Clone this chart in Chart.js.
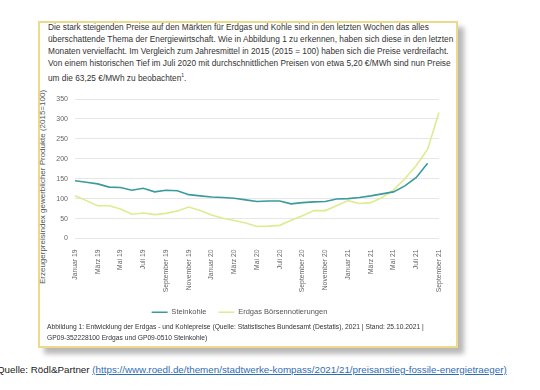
<!DOCTYPE html>
<html lang="de">
<head>
<meta charset="utf-8">
<script src="https://cdn.jsdelivr.net/npm/chart.js@4.4.0/dist/chart.umd.min.js"></script>
<style>
  html, body { margin: 0; padding: 0; background: #fff; }
  body { width: 540px; height: 390px; position: relative; overflow: hidden; font-family: "Liberation Sans", Arial, sans-serif; }
  #box {
    position: absolute; left: 38px; top: 21px; width: 416px; height: 323px;
    border: 2px solid #ecd98c; background: #fff;
    box-shadow: 6px 6px 5px rgba(0,0,0,0.28);
  }
  #intro {
    position: absolute; left: 48px; top: 21px; width: 410px;
    font-size: 8.3px; line-height: 12px; color: #333; white-space: nowrap;
  }
  #intro sup { font-size: 5px; }
  #ytitle {
    position: absolute; left: 42px; top: 187px; width: 0; height: 0;
  }
  #ytitle span {
    position: absolute; left: 0; top: 0; transform: translate(-50%, -50%) rotate(-90deg);
    white-space: nowrap; font-size: 8px; color: #555;
  }
  #chartWrap { position: absolute; left: 40px; top: 86px; width: 414px; height: 240px; }
  #caption {
    position: absolute; left: 47px; top: 321px; font-size: 6.7px; line-height: 11px;
    color: #333; white-space: nowrap;
  }
  #source {
    position: absolute; left: -3px; top: 364px; font-size: 9.8px; color: #222; white-space: nowrap;
  }
  #source a { color: #2f6db5; text-decoration: underline; }
</style>
</head>
<body>
<div id="box"></div>
<div id="intro">
  Die stark steigenden Preise auf den Märkten für Erdgas und Kohle sind in den letzten Wochen das alles<br>
  überschattende Thema der Energiewirtschaft. Wie in Abbildung 1 zu erkennen, haben sich diese in den letzten<br>
  Monaten vervielfacht. Im Vergleich zum Jahresmittel in 2015 (2015 = 100) haben sich die Preise verdreifacht.<br>
  Von einem historischen Tief im Juli 2020 mit durchschnittlichen Preisen von etwa 5,20 €/MWh sind nun Preise<br>
  um die 63,25 €/MWh zu beobachten<sup>1</sup>.
</div>
<div id="ytitle"><span>Erzeugerpreisindex gewerblicher Produkte (2015=100)</span></div>
<div id="chartWrap"><canvas id="chart"></canvas></div>
<div id="caption">
  Abbildung 1: Entwicklung der Erdgas - und Kohlepreise (Quelle: Statistisches Bundesamt (Destatis), 2021 | Stand: 25.10.2021 |<br>
  GP09-352228100 Erdgas und GP09-0510 Steinkohle)
</div>
<div id="source">Quelle: Rödl&amp;Partner <a href="#">(https://www.roedl.de/themen/stadtwerke-kompass/2021/21/preisanstieg-fossile-energietraeger)</a></div>

<script>
// Monate Januar 2019 bis September 2021
const months = [
    'Januar 19', 'Februar 19', 'März 19', 'April 19', 'Mai 19', 'Juni 19',
    'Juli 19', 'August 19', 'September 19', 'Oktober 19', 'November 19', 'Dezember 19',
    'Januar 20', 'Februar 20', 'März 20', 'April 20', 'Mai 20', 'Juni 20',
    'Juli 20', 'August 20', 'September 20', 'Oktober 20', 'November 20', 'Dezember 20',
    'Januar 21', 'Februar 21', 'März 21', 'April 21', 'Mai 21', 'Juni 21',
    'Juli 21', 'August 21', 'September 21'
];

// Index 2015 = 100
const steinkohle = [
    145, 141, 137, 129, 128, 121, 126, 117, 121, 120, 110, 107,
    104, 103, 101, 97, 93, 94, 94, 87, 90, 92, 93, 99,
    100, 103, 107, 112, 117, 132, 153, 189, null
];

const erdgas = [
    107, 95, 82, 82, 74, 61, 64, 60, 63, 69, 79, 70,
    59, 51, 45, 39, 30, 31, 33, 46, 57, 70, 70, 82,
    95, 88, 90, 103, 122, 150, 183, 224, 316
];

const yTicks = [0, 50, 100, 150, 200, 250, 300, 350];

const ctx = document.getElementById('chart');

new Chart(ctx, {
    type: 'line',
    data: {
        labels: months,
        datasets: [{
            label: 'Steinkohle',
            data: steinkohle,
            borderColor: '#3a9a9c',
            backgroundColor: '#3a9a9c',
            borderWidth: 1.6,
            pointRadius: 0,
            tension: 0
        }, {
            label: 'Erdgas Börsennotierungen',
            data: erdgas,
            borderColor: '#e0ea8f',
            backgroundColor: '#e0ea8f',
            borderWidth: 1.6,
            pointRadius: 0,
            tension: 0
        }]
    },
    options: {
        responsive: true,
        maintainAspectRatio: false,
        animation: false,
        layout: {
            padding: { top: 13, right: 15, left: 0, bottom: 0 }
        },
        plugins: {
            legend: {
                position: 'bottom',
                labels: {
                    usePointStyle: true,
                    pointStyle: 'line',
                    pointStyleWidth: 16,
                    boxHeight: 6,
                    padding: 12,
                    color: '#555',
                    font: { family: 'Liberation Sans', size: 7.5 }
                }
            },
            tooltip: { enabled: false }
        },
        scales: {
            x: {
                offset: false,
                grid: { display: false },
                border: { display: false },
                ticks: {
                    autoSkip: false,
                    maxRotation: 90,
                    minRotation: 90,
                    color: '#666',
                    padding: 3,
                    font: { family: 'Liberation Sans', size: 6.8 },
                    callback: function(value, index) {
                        // only every second month is labelled
                        return index % 2 === 0 ? this.getLabelForValue(value) : '';
                    }
                },
                afterFit: function(scale) {
                    scale.height = 58;
                }
            },
            y: {
                min: 0,
                max: 350,
                afterBuildTicks: function(scale) {
                    scale.ticks = yTicks.map(v => ({ value: v }));
                },
                grid: { color: '#e6e6e6', lineWidth: 1, drawTicks: false },
                border: { display: false },
                ticks: {
                    color: '#666',
                    padding: 7,
                    font: { family: 'Liberation Sans', size: 7 }
                },
                afterFit: function(scale) {
                    scale.width = 35;
                }
            }
        }
    }
});
</script>
</body>
</html>
